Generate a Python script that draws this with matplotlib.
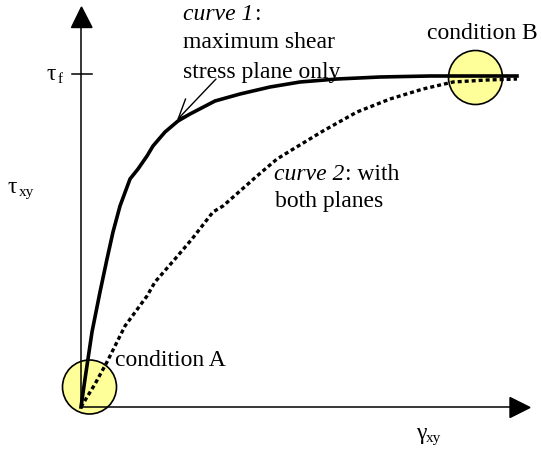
import matplotlib
matplotlib.use("Agg")
import matplotlib.pyplot as plt
from matplotlib.patches import Circle, Polygon

# ---- data (pixel-space schematic coordinates, y downward) ----
curve1_x = [81, 85, 92, 100, 107, 113, 120, 130, 138, 147, 153, 165, 178, 190, 215, 240, 270, 300, 337, 380, 430, 480, 517]
curve1_y = [408, 380, 333, 293, 260, 233, 207, 180, 170, 157, 147, 133, 122, 115, 102, 95, 88, 83, 80, 78, 77, 77, 77]

curve2_x = [81, 95, 107, 125, 147, 155, 175, 192, 213, 223, 240, 257, 277, 290, 323, 357, 390, 423, 453, 487, 517]
curve2_y = [408, 385, 363, 327, 297, 283, 260, 240, 213, 207, 192, 177, 160, 152, 132, 113, 100, 90, 83, 81, 80]

cond_labels = ["condition A", "condition B"]
cond_x = [89.5, 475.5]
cond_y = [388, 78.5]

W, H = 541, 452
fig = plt.figure(figsize=(W / 100, H / 100), dpi=100)
ax = fig.add_axes([0, 0, 1, 1])
ax.set_xlim(0, W)
ax.set_ylim(H, 0)
ax.axis("off")

FONT = "Liberation Serif"
FS = 17
yellow = "#FFFF99"

# circles (under everything)
for cx, cy in zip(cond_x, cond_y):
    ax.add_patch(Circle((cx, cy), 27, facecolor=yellow, edgecolor="black", lw=1.2, zorder=1))

# axes lines + arrowheads
ox, oy = 81, 408
ax.plot([ox, ox], [oy, 28], color="black", lw=1.1, zorder=2)
ax.add_patch(Polygon([(71.5, 28.5), (92, 28.5), (81.5, 8)], closed=True, color="black", zorder=2))
ax.plot([ox, 511], [oy, oy], color="black", lw=1.1, zorder=2)
ax.add_patch(Polygon([(510, 398.5), (510, 418.5), (530, 408.5)], closed=True, color="black", zorder=2))
# tau_f tick
ax.plot([72, 92], [75, 75], color="black", lw=1.1, zorder=2)

# curves
ax.plot(curve1_x, curve1_y, color="black", lw=2.6, solid_joinstyle="round", zorder=3)
ax.plot(curve2_x, curve2_y, color="black", lw=2.4, dashes=(1.2, 0.9), zorder=3)

# pointer arrow for curve 1
ax.annotate("", xy=(177, 121), xytext=(216, 80),
            arrowprops=dict(arrowstyle="->,head_length=1.4,head_width=0.6",
                            lw=1.0, color="black", shrinkA=0, shrinkB=0,
                            mutation_scale=10))

def txt(x, y, s, size=FS, style="normal"):
    return ax.text(x, y, s, fontsize=size, family=FONT, style=style,
                   ha="left", va="baseline", color="black", zorder=4)

fig.canvas.draw()
renderer = fig.canvas.get_renderer()
inv = ax.transData.inverted()

def right_edge(t):
    bb = t.get_window_extent(renderer)
    return inv.transform((bb.x1, bb.y0))[0]

# curve 1 label
t1 = txt(183, 20, "curve 1", style="italic")
fig.canvas.draw()
txt(right_edge(t1) + 1, 20, ":")
txt(183, 48, "maximum shear")
txt(183, 78, "stress plane only")

# curve 2 label
t2 = txt(274, 180, "curve 2", style="italic")
fig.canvas.draw()
txt(right_edge(t2) + 1, 180, ": with")
txt(275, 207, "both planes")

# condition labels
txt(115, 366, cond_labels[0])
txt(427, 39, cond_labels[1])

# axis symbol labels
txt(47, 80, "\u03c4", size=FS)
txt(57.5, 83, "f", size=11)
txt(8, 193, "\u03c4", size=FS)
txt(19, 196, "xy", size=11)
txt(416, 439, "\u03b3", size=FS)
txt(426, 442, "xy", size=11)

fig.savefig("out.png", dpi=100)
